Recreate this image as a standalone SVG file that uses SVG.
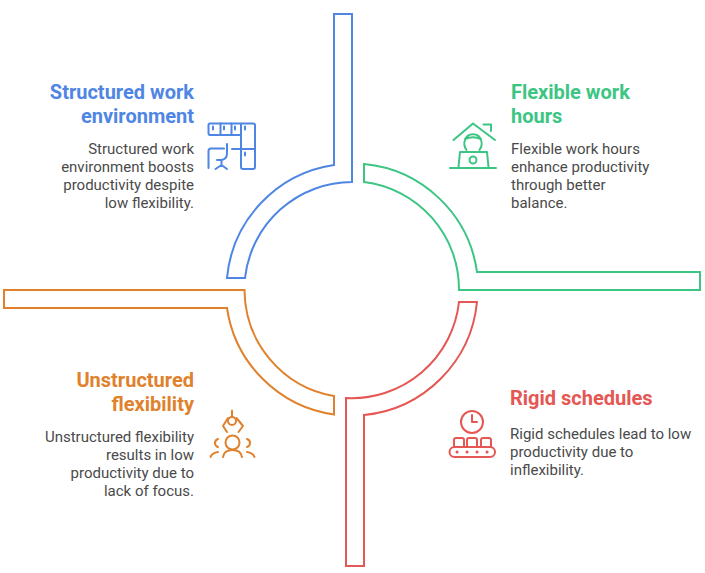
<svg xmlns="http://www.w3.org/2000/svg" width="705" height="573" viewBox="0 0 705 573">
<style>
text{font-family:Roboto,"Liberation Sans",sans-serif}
.t{font-size:20px;font-weight:700}
.b{font-size:15px;fill:#4a4a4a}
.e{text-anchor:end}
.s{fill:none;stroke-width:2;stroke-linejoin:miter}
.i{fill:none;stroke-width:2;stroke-linecap:round;stroke-linejoin:round}
.blue{stroke:#4f86e4}.green{stroke:#3cc583}.red{stroke:#e55753}.orange{stroke:#e0822d}
</style>
<rect width="705" height="573" fill="#fff"/>
<g id="connectors">
<path class="s blue" d="M334 14H352V182A108 108 0 0 0 245 278H227A126 126 0 0 1 334 165Z"/>
<path class="s green" d="M364 164A126 126 0 0 1 477 272H700V290H459A108 108 0 0 0 364 182Z"/>
<path class="s red" d="M477 302A126 126 0 0 1 364 415V566H346V398A108 108 0 0 0 459 302Z"/>
<path class="s orange" d="M4 290H244.500A108 108 0 0 0 334 396V414.500A126 126 0 0 1 227 308H4Z"/>
</g>
<g id="node-structured">
<text class="t e" fill="#4f86e4" x="194" y="99">Structured work</text>
<text class="t e" fill="#4f86e4" x="194" y="123">environment</text>
<text class="b e" x="194" y="154">Structured work</text>
<text class="b e" x="194" y="172">environment boosts</text>
<text class="b e" x="194" y="190">productivity despite</text>
<text class="b e" x="194" y="208">low flexibility.</text>
<g class="i blue">
<path d="M241 135H210Q208.500 135 208.500 133V125Q208.500 123.500 210 123.500H253Q255 123.500 255 125V167Q255 169 253 169H243Q241 169 241 167V125"/>
<path d="M220.500 123.500V135M231.500 123.500V135M241 149H255M213 126.500V129.500M224 126.500V129.500M235 126.500V129.500M245 126.500V129.500M245 152.500V155.500"/>
<path d="M208.500 168V151Q208.500 148.500 211 148.500H224M227 144V153Q227 160 220 160H217M232 149H241M221.500 160V165M215.500 169L221.500 165L227 169"/>
</g>
</g>
<g id="node-flexible">
<text class="t" fill="#3cc583" x="511" y="99">Flexible work</text>
<text class="t" fill="#3cc583" x="511" y="123">hours</text>
<text class="b" x="511" y="154">Flexible work hours</text>
<text class="b" x="511" y="172">enhance productivity</text>
<text class="b" x="511" y="190">through better</text>
<text class="b" x="511" y="208">balance.</text>
<g class="i green">
<path d="M453.500 140L473 123.500L495 140M483.500 124.500H491V131"/>
<path d="M466.500 150Q463 145 465 140A8.500 8.500 0 0 1 481 140Q483 145 479.500 150M465 139Q473 135.500 481 139"/>
<path d="M458.500 167L460 152H487L488.500 167M450 168H496"/>
<circle cx="473" cy="160" r="3.500"/>
</g>
</g>
<g id="node-rigid">
<text class="t" fill="#e55753" x="510" y="405">Rigid schedules</text>
<text class="b" x="510" y="439">Rigid schedules lead to low</text>
<text class="b" x="510" y="457">productivity due to</text>
<text class="b" x="510" y="475">inflexibility.</text>
<g class="i red">
<circle cx="472" cy="422" r="11"/>
<path d="M472 415V422H477"/>
<path d="M454 447V440Q454 438 456 438H462Q464 438 464 440V447M467 447V440Q467 438 469 438H475Q477 438 477 440V447M481 447V440Q481 438 483 438H489Q491 438 491 440V447"/>
<rect x="449.500" y="447" width="45.500" height="10" rx="5"/>
<path stroke-width="3" d="M457 452h.1M467 452h.1M477 452h.1M487 452h.1"/>
</g>
</g>
<g id="node-unstructured">
<text class="t e" fill="#e0822d" x="194" y="387">Unstructured</text>
<text class="t e" fill="#e0822d" x="194" y="411">flexibility</text>
<text class="b e" x="194" y="442">Unstructured flexibility</text>
<text class="b e" x="194" y="460">results in low</text>
<text class="b e" x="194" y="478">productivity due to</text>
<text class="b e" x="194" y="496">lack of focus.</text>
<g class="i orange">
<path d="M232 410.500V417"/>
<circle cx="232" cy="421" r="4"/>
<path d="M228 418L223 426L227 432M236.500 418L243 426L238.500 432"/>
<circle cx="232.500" cy="442.500" r="7"/>
<path d="M223 457Q224 450 232.500 450Q241 450 242 457"/>
<path d="M218 439Q215 440 215 443Q215 446 218 447M247 439Q250 440 250 443Q250 446 247 447"/>
<path d="M210.500 457Q212 453 218 452M247 452Q253 453 254.500 457"/>
</g>
</g>
</svg>
